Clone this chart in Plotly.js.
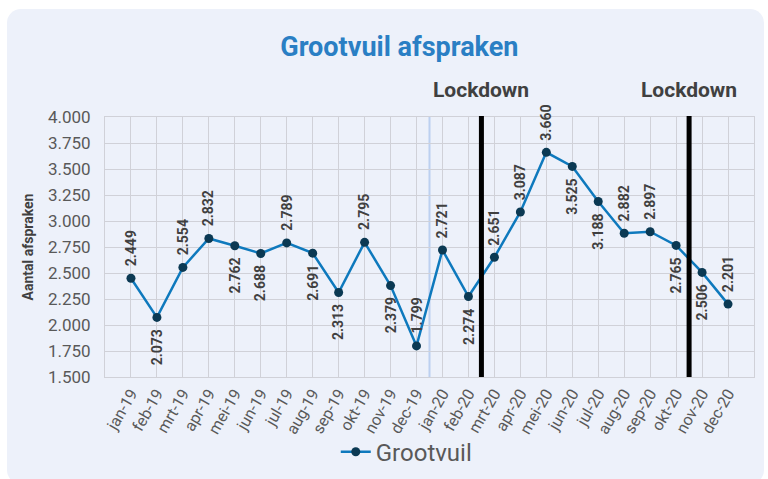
<!DOCTYPE html>
<html>
<head>
<meta charset="utf-8">
<script src="https://cdn.plot.ly/plotly-3.0.1.min.js"></script>
<style>
  html, body { margin: 0; padding: 0; background: #ffffff; }
  #panel { position: absolute; left: 7px; top: 9px; width: 757px; height: 475px; background: #edf1fa; border-radius: 14px; }
  #chart { position: absolute; left: 0; top: 0; width: 768px; height: 479px; }
</style>
</head>
<body>
<div id="panel"></div>
<div id="chart"></div>
<script>
const months = ['jan-19','feb-19','mrt-19','apr-19','mei-19','jun-19','jul-19','aug-19','sep-19','okt-19','nov-19','dec-19',
                'jan-20','feb-20','mrt-20','apr-20','mei-20','jun-20','jul-20','aug-20','sep-20','okt-20','nov-20','dec-20'];
const grootvuil = [2449, 2073, 2554, 2832, 2762, 2688, 2789, 2691, 2313, 2795, 2379, 1799,
                   2721, 2274, 2651, 3087, 3660, 3525, 3188, 2882, 2897, 2765, 2506, 2201];
const labelAbove = [true, false, true, true, false, false, true, false, false, true, false, true,
                    true, false, true, true, true, false, false, true, true, false, false, true];
const yearBreakAfter = 'dec-19';
const lockdownAfter = ['feb-20', 'okt-20'];
const lockdownLabel = 'Lockdown';

const gridColor = '#d0d1d8';
const labelColor = '#404040';

const trace = {
  x: months, y: grootvuil, type: 'scatter', mode: 'lines+markers', name: 'Grootvuil',
  line: { color: '#0e79bd', width: 2.5 },
  marker: { color: '#0b3953', size: 9 },
  hoverinfo: 'x+y'
};

const annotations = months.map((m, i) => ({
  x: m, y: grootvuil[i], xref: 'x', yref: 'y',
  text: '<b>' + (grootvuil[i] / 1000).toFixed(3) + '</b>',
  showarrow: false, textangle: -90,
  xanchor: 'center',
  yanchor: labelAbove[i] ? 'bottom' : 'top',
  yshift: labelAbove[i] ? 10 : -10,
  font: { family: 'Roboto', size: 14, color: labelColor }
}));

lockdownAfter.forEach(m => {
  annotations.push({
    x: months.indexOf(m) + 0.5, y: 1.105, xref: 'x', yref: 'paper',
    text: '<b>' + lockdownLabel + '</b>', showarrow: false,
    xanchor: 'center', yanchor: 'middle',
    font: { family: 'Roboto', size: 21, color: labelColor }
  });
});

const shapes = [{
  type: 'line', xref: 'x', yref: 'paper',
  x0: months.indexOf(yearBreakAfter) + 0.5, x1: months.indexOf(yearBreakAfter) + 0.5, y0: 0, y1: 1,
  line: { color: '#bcd0f0', width: 2 }, layer: 'below'
}];
lockdownAfter.forEach(m => {
  const xi = months.indexOf(m) + 0.5;
  shapes.push({
    type: 'line', xref: 'x', yref: 'paper', x0: xi, x1: xi, y0: 0, y1: 1.004,
    line: { color: '#000000', width: 5 }
  });
});

const layout = {
  width: 768, height: 479,
  margin: { l: 105, r: 14, t: 117, b: 102 },
  paper_bgcolor: 'rgba(0,0,0,0)',
  plot_bgcolor: 'rgba(0,0,0,0)',
  separators: ',.',
  font: { family: 'Roboto', color: '#595959' },
  title: {
    text: '<b>Grootvuil afspraken</b>',
    font: { family: 'Roboto', size: 27, color: '#2a7fc4' },
    xref: 'container', x: 0.52, xanchor: 'center',
    yref: 'container', y: 0.902, yanchor: 'middle'
  },
  xaxis: {
    type: 'category', range: [-1, 24], automargin: false,
    showgrid: true, gridcolor: gridColor, gridwidth: 1,
    showline: true, linecolor: gridColor, linewidth: 1, mirror: true,
    tickangle: -60, tickfont: { family: 'Roboto', size: 16, color: '#595959' },
    ticks: '', zeroline: false
  },
  yaxis: {
    range: [1500, 4000], dtick: 250, tick0: 1500, tickformat: ',d', automargin: false,
    showgrid: true, gridcolor: gridColor, gridwidth: 1,
    showline: true, linecolor: gridColor, linewidth: 1, mirror: true,
    tickfont: { family: 'Roboto', size: 17, color: '#595959' },
    ticks: '', ticklabelstandoff: 10, zeroline: false,
    title: { text: '<b>Aantal afspraken</b>', font: { family: 'Roboto', size: 14, color: labelColor }, standoff: 10 }
  },
  showlegend: true,
  legend: {
    orientation: 'h', xref: 'container', x: 0.529, xanchor: 'center',
    yref: 'container', y: 0.056, yanchor: 'middle',
    font: { family: 'Roboto', size: 24, color: '#595959' },
    bgcolor: 'rgba(0,0,0,0)'
  },
  annotations: annotations,
  shapes: shapes
};

Plotly.newPlot('chart', [trace], layout, { displayModeBar: false, staticPlot: true });
</script>
</body>
</html>
